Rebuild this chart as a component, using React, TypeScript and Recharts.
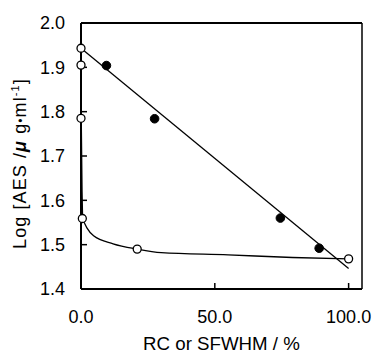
import React from "react";
import {
  ComposedChart,
  Line,
  Scatter,
  XAxis,
  YAxis,
  ReferenceLine,
} from "recharts";

// Filled circles (RC)
const filledX = [9.5, 27.5, 74.5, 89];
const filledY = [1.904, 1.784, 1.56, 1.492];

// Open circles (SFWHM)
const openX = [0, 0, 0, 0.5, 21, 100];
const openY = [1.943, 1.905, 1.785, 1.559, 1.49, 1.468];

// Straight fitted line
const fitX = [0, 100];
const fitY = [1.943, 1.446];

// Curve: near-vertical segment along the y axis
const vertX = [0, 0, 0.3, 0.5];
const vertY = [1.943, 1.785, 1.62, 1.559];

// Curve: smooth part
const curveX = [0.5, 2.2, 4.7, 12, 21, 30, 55, 79, 100];
const curveY = [1.559, 1.538, 1.52, 1.502, 1.49, 1.482, 1.477, 1.471, 1.468];

const xTicks = [0, 50, 100];
const yTicks = [1.4, 1.5, 1.6, 1.7, 1.8, 1.9, 2.0];

const zip = (xs: number[], ys: number[]) => xs.map((x, i) => ({ x, y: ys[i] }));

const filled = zip(filledX, filledY);
const open = zip(openX, openY);
const fit = zip(fitX, fitY);
const vert = zip(vertX, vertY);
const curve = zip(curveX, curveY);

const FONT = "'Liberation Sans', Arial, sans-serif";

const OpenDot = (p: any) => (
  <circle cx={p.cx} cy={p.cy} r={4} fill="#fff" stroke="#000" strokeWidth={1.3} />
);
const FilledDot = (p: any) => (
  <circle cx={p.cx} cy={p.cy} r={4.3} fill="#000" stroke="#000" strokeWidth={1} />
);

const YLabel = (props: any) => {
  const vb = props.viewBox || { x: 0, y: 0, width: 0, height: 0 };
  const cx = 26;
  const cy = vb.y + vb.height / 2 + 7.5;
  return (
    <text
      x={cx}
      y={cy}
      transform={`rotate(-90, ${cx}, ${cy})`}
      textAnchor="middle"
      fontFamily={FONT}
      fontSize={18}
      letterSpacing={1.1}
      fill="#000"
    >
      Log [AES /
      <tspan fontWeight="bold" fontStyle="italic">μ</tspan>
      <tspan> g</tspan>
      <tspan fontSize={12} dy={-1}>•</tspan>
      <tspan dy={1}>ml</tspan>
      <tspan dy={-7} fontSize={11}>-1</tspan>
      <tspan dy={7}>]</tspan>
    </text>
  );
};

const XLabel = (props: any) => {
  const vb = props.viewBox || { x: 0, y: 0, width: 0, height: 0 };
  return (
    <text
      x={vb.x + vb.width / 2}
      y={350}
      textAnchor="middle"
      fontFamily={FONT}
      fontSize={18.7}
      fill="#000"
    >
      RC or SFWHM / %
    </text>
  );
};

export default function App() {
  return (
    <div style={{ position: "absolute", left: 0, top: 0, background: "#fff" }}>
      <ComposedChart
        width={374}
        height={354}
        margin={{ top: 23, right: 12, bottom: 35, left: 0 }}
      >
        <XAxis
          type="number"
          dataKey="x"
          domain={[0, 105]}
          ticks={xTicks}
          tickFormatter={(v: number) => v.toFixed(1)}
          tickSize={-6}
          tickMargin={27}
          height={30}
          axisLine={{ stroke: "#000", strokeWidth: 2 }}
          tickLine={{ stroke: "#000", strokeWidth: 1.5 }}
          tick={{ fill: "#000", fontSize: 18, fontFamily: FONT }}
          label={<XLabel />}
        />
        <YAxis
          type="number"
          dataKey="y"
          domain={[1.4, 2.0]}
          ticks={yTicks}
          tickFormatter={(v: number) => v.toFixed(1)}
          width={81}
          tickSize={-6}
          tickMargin={22}
          axisLine={{ stroke: "#000", strokeWidth: 2 }}
          tickLine={{ stroke: "#000", strokeWidth: 1.5 }}
          tick={{ fill: "#000", fontSize: 18, fontFamily: FONT }}
          label={<YLabel />}
        />
        <ReferenceLine y={2.0} stroke="#000" strokeWidth={2} />
        <ReferenceLine x={105} stroke="#000" strokeWidth={1.5} />
        <Line
          data={fit}
          dataKey="y"
          type="linear"
          stroke="#000"
          strokeWidth={1.3}
          dot={false}
          activeDot={false}
          isAnimationActive={false}
        />
        <Line
          data={vert}
          dataKey="y"
          type="linear"
          stroke="#000"
          strokeWidth={1.8}
          dot={false}
          activeDot={false}
          isAnimationActive={false}
        />
        <Line
          data={curve}
          dataKey="y"
          type="monotone"
          stroke="#000"
          strokeWidth={1.3}
          dot={false}
          activeDot={false}
          isAnimationActive={false}
        />
        <Scatter data={filled} dataKey="y" shape={FilledDot} isAnimationActive={false} />
        <Scatter data={open} dataKey="y" shape={OpenDot} isAnimationActive={false} />
      </ComposedChart>
    </div>
  );
}
